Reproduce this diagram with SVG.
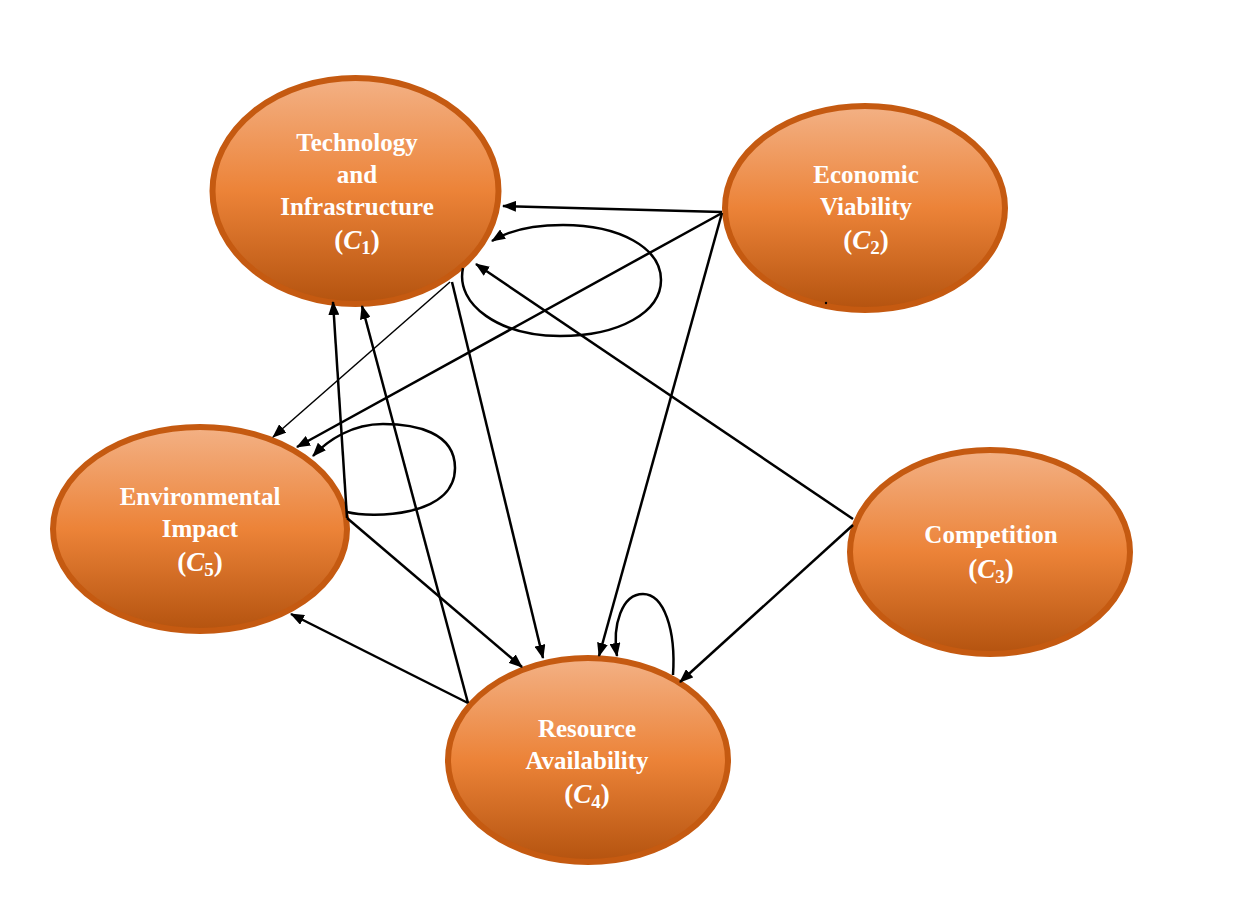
<svg xmlns="http://www.w3.org/2000/svg" width="1237" height="898" viewBox="0 0 1237 898">
<defs>
<linearGradient id="g" x1="0" y1="0" x2="0" y2="1">
<stop offset="0" stop-color="#f3b185"/>
<stop offset="0.5" stop-color="#ec8338"/>
<stop offset="1" stop-color="#b4530f"/>
</linearGradient>
<marker id="ah" viewBox="0 0 14 11" refX="13" refY="5.5" markerWidth="14" markerHeight="11" markerUnits="userSpaceOnUse" orient="auto">
<path d="M0,0 L14,5.5 L0,11 z" fill="#000"/>
</marker>
</defs>
<style>
.node ellipse{fill:url(#g);stroke:#c55a11;stroke-width:6}
.lbl{font-family:"Liberation Serif","Times New Roman",serif;font-weight:bold;font-size:25px;fill:#fff;text-anchor:middle}
.m{font-family:"Liberation Serif","Times New Roman",serif;font-size:27px;font-weight:bold;fill:#fff;text-anchor:middle}
.m .i{font-style:italic}
.m .s{font-size:19px}
.c path,.c line{stroke:#000;stroke-width:2.5;fill:none;marker-end:url(#ah)}
.c .thin{stroke-width:1.5}
</style>
<rect width="1237" height="898" fill="#fff"/>
<g id="C1" class="node">
<ellipse cx="355.5" cy="191" rx="143" ry="113"/>
<text class="lbl" x="357" y="151">Technology</text>
<text class="lbl" x="357" y="183">and</text>
<text class="lbl" x="357" y="215">Infrastructure</text>
<text class="m" x="357" y="249">(<tspan class="i">C</tspan><tspan class="s" dy="5">1</tspan><tspan dy="-5">)</tspan></text>
</g>
<g id="C2" class="node">
<ellipse cx="865" cy="208" rx="140" ry="102"/>
<text class="lbl" x="866" y="183">Economic</text>
<text class="lbl" x="866" y="215">Viability</text>
<text class="m" x="866" y="249">(<tspan class="i">C</tspan><tspan class="s" dy="5">2</tspan><tspan dy="-5">)</tspan></text>
<circle cx="826" cy="303" r="1.2" fill="#000"/>
</g>
<g id="C3" class="node">
<ellipse cx="990" cy="552" rx="140" ry="102"/>
<text class="lbl" x="991" y="543">Competition</text>
<text class="m" x="991" y="578">(<tspan class="i">C</tspan><tspan class="s" dy="5">3</tspan><tspan dy="-5">)</tspan></text>
</g>
<g id="C4" class="node">
<ellipse cx="588" cy="760" rx="140" ry="102"/>
<text class="lbl" x="587" y="737">Resource</text>
<text class="lbl" x="587" y="769">Availability</text>
<text class="m" x="587" y="803">(<tspan class="i">C</tspan><tspan class="s" dy="5">4</tspan><tspan dy="-5">)</tspan></text>
</g>
<g id="C5" class="node">
<ellipse cx="200" cy="529" rx="147" ry="102"/>
<text class="lbl" x="200" y="505">Environmental</text>
<text class="lbl" x="200" y="537">Impact</text>
<text class="m" x="200" y="571">(<tspan class="i">C</tspan><tspan class="s" dy="5">5</tspan><tspan dy="-5">)</tspan></text>
</g>
<g id="connectors" class="c">
<line x1="722" y1="212" x2="503" y2="206"/>
<line x1="722" y1="213" x2="297" y2="447"/>
<line x1="722" y1="213" x2="599" y2="656"/>
<line x1="853" y1="519" x2="476" y2="264"/>
<line x1="853" y1="525" x2="680" y2="682"/>
<line x1="452" y1="282" x2="543" y2="658"/>
<line class="thin" x1="450" y1="282" x2="273" y2="437"/>
<line x1="347" y1="518" x2="333" y2="302"/>
<line x1="347" y1="518" x2="522" y2="667"/>
<line x1="468" y1="703" x2="362" y2="306"/>
<line x1="468" y1="703" x2="291" y2="614"/>
<path d="M463 268 C455 305,500 336,560 336 C620 336,661 312,661 280 C661 248,620 225,563 225 C530 225,508 231,492 241"/>
<path d="M347 512 C370 518,455 518,455 468 C455 432,415 424,383 424 C352 424,328 440,313 456"/>
<path d="M673 675 C676 630,664 594,643 594 C622 594,612 625,617 656"/>
</g>
</svg>
